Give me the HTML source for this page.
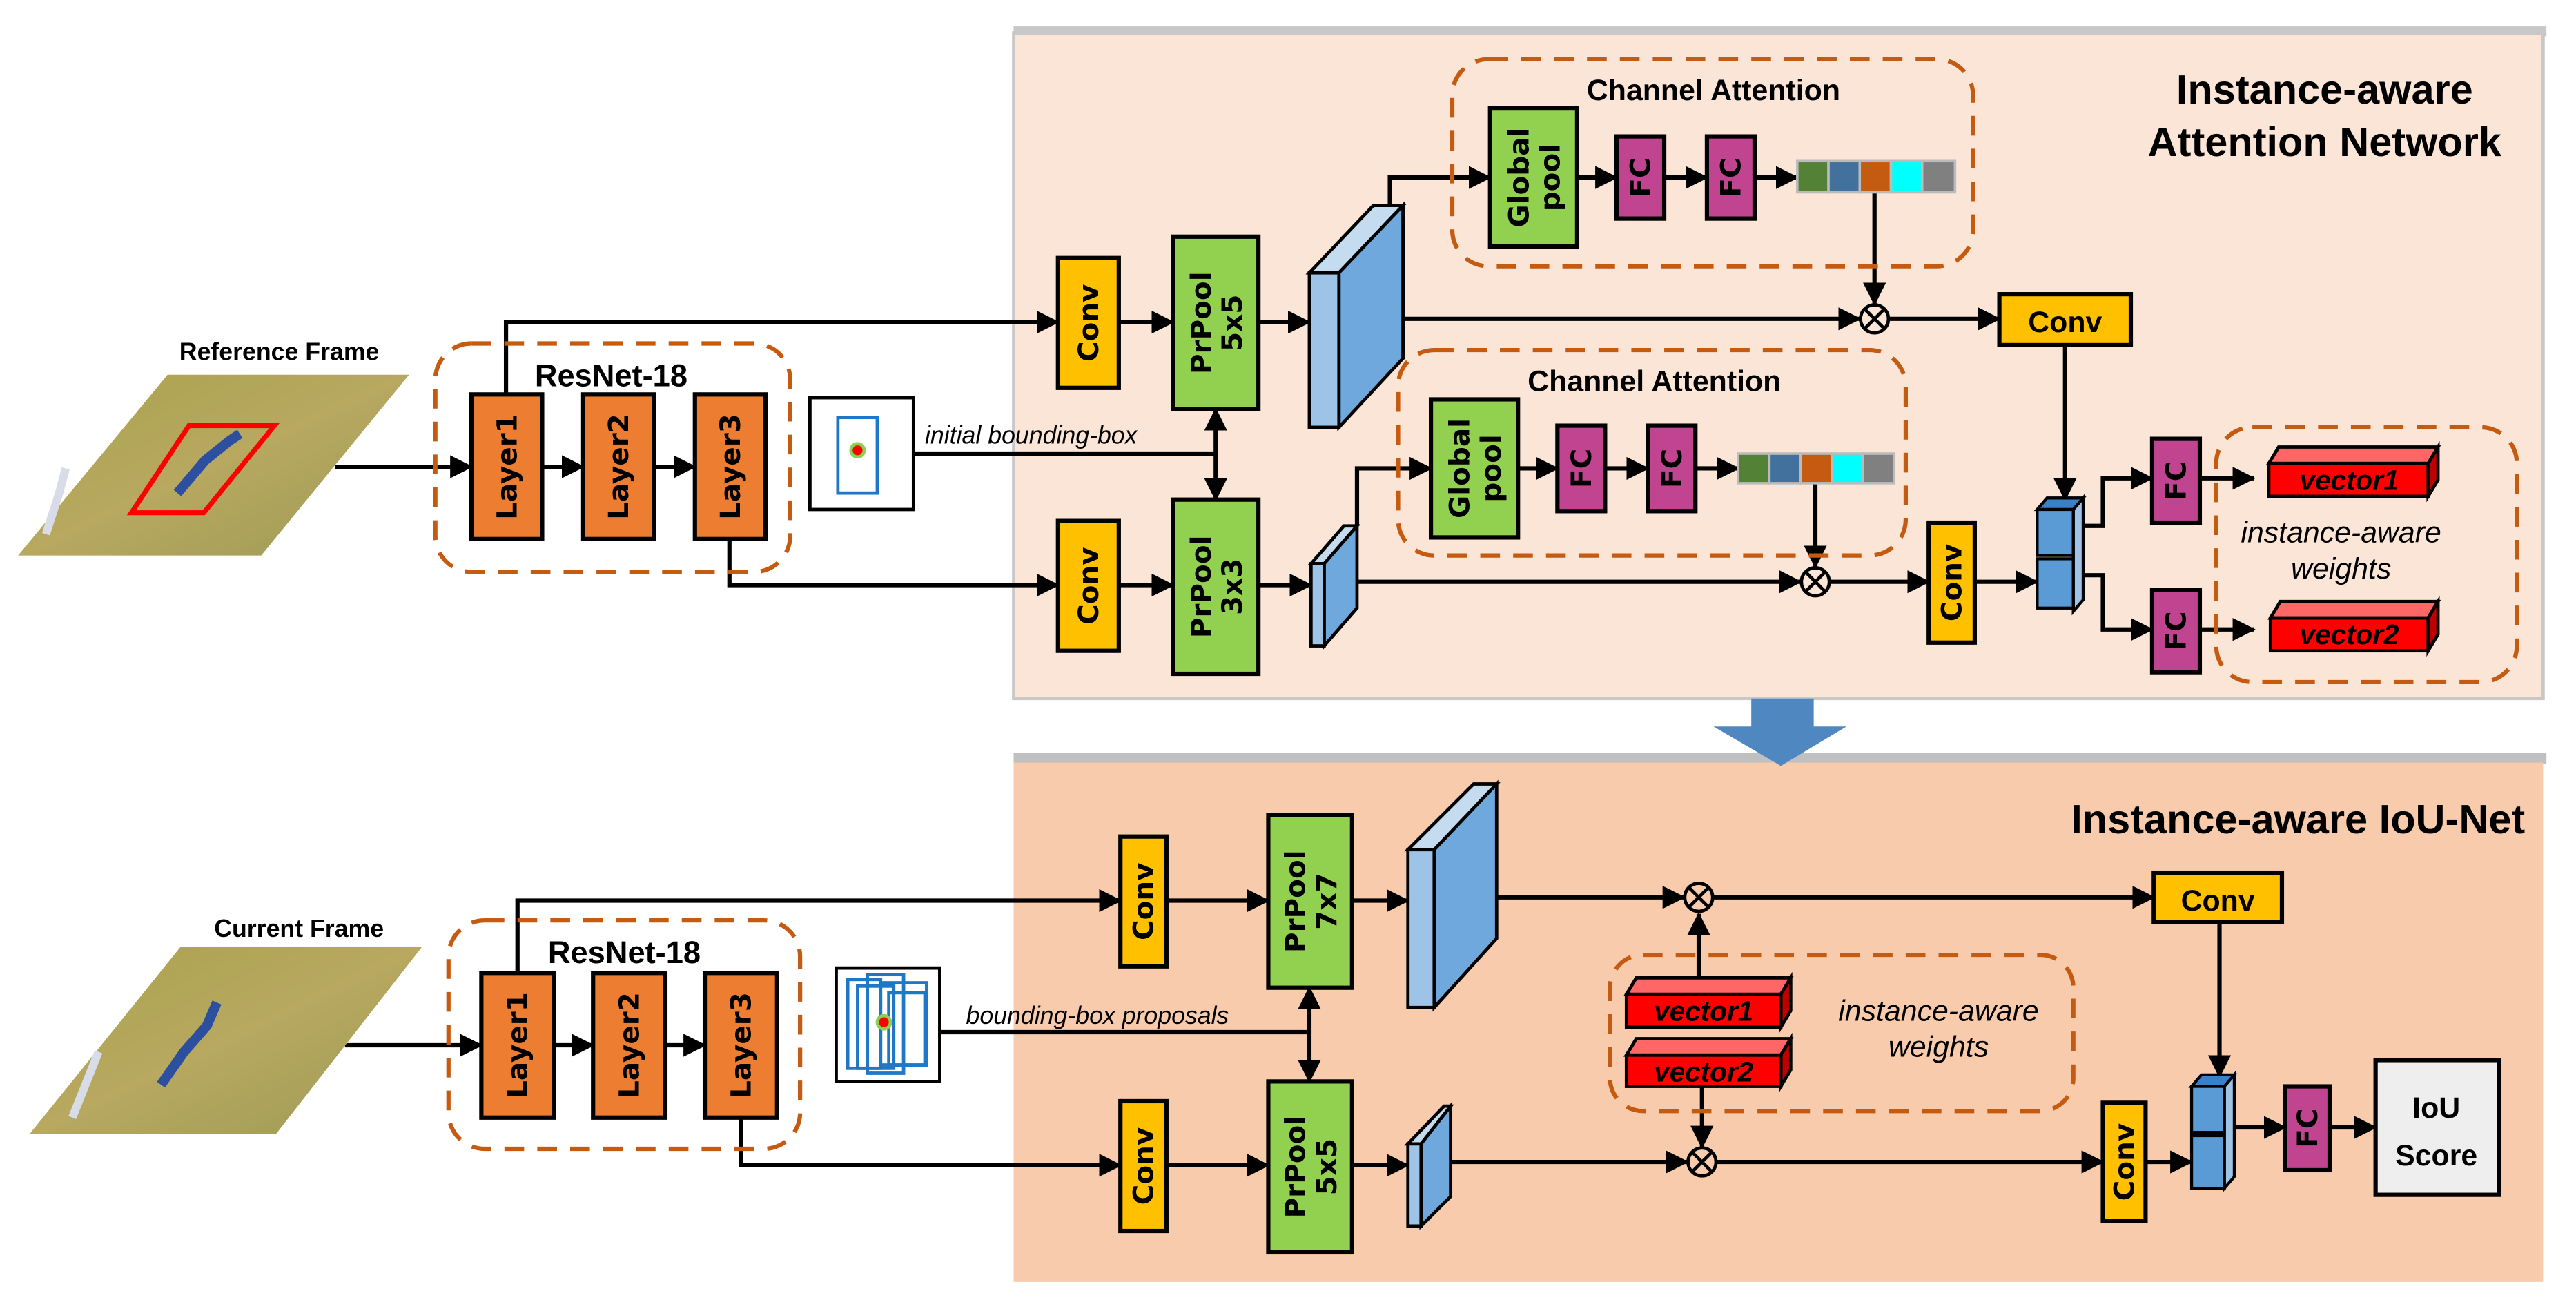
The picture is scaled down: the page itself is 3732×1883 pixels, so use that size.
<!DOCTYPE html>
<html><head><meta charset="utf-8"><style>
html,body{margin:0;padding:0;background:#fff}
svg{display:block}
.b{font-family:"DejaVu Sans",sans-serif;font-weight:bold}
.t{font-family:"Liberation Sans",sans-serif;font-weight:bold}
.i{font-family:"Liberation Sans",sans-serif;font-style:italic}
</style></head><body>
<svg width="3732" height="1883" viewBox="0 0 1568 791" preserveAspectRatio="none" xmlns="http://www.w3.org/2000/svg">
<defs>
<marker id="a" markerUnits="userSpaceOnUse" markerWidth="14" markerHeight="14" refX="13" refY="7" orient="auto"><path d="M0,0 L14,7 L0,14 z" fill="#000"/></marker>
<linearGradient id="g" x1="0" y1="0" x2="1" y2="1"><stop offset="0" stop-color="#a8a24c"/><stop offset="0.5" stop-color="#b8a860"/><stop offset="1" stop-color="#9c9a55"/></linearGradient>
</defs>
<!-- panels -->
<rect x="617" y="16" width="933" height="6" fill="#c8c8c8"/>
<rect x="617" y="20" width="931" height="405" fill="#fbe5d6" stroke="#c8c8c8" stroke-width="2"/>
<rect x="617" y="458" width="933" height="7" fill="#c0c0c0"/>
<rect x="617" y="464" width="931" height="316" fill="#f8cbad"/>
<!-- big arrow -->
<path d="M1066,425 L1104,425 L1104,442 L1124,442 L1084,466 L1043,442 L1066,442 z" fill="#4f88c0"/>

<g stroke="#000" stroke-width="2.6" fill="none">
<!-- TOP -->
<line x1="204" y1="284" x2="287" y2="284" marker-end="url(#a)"/>
<line x1="330" y1="284" x2="355" y2="284" marker-end="url(#a)"/>
<line x1="398" y1="284" x2="423" y2="284" marker-end="url(#a)"/>
<polyline points="308,240 308,196 644,196" marker-end="url(#a)"/>
<line x1="681" y1="196" x2="714" y2="196" marker-end="url(#a)"/>
<line x1="766" y1="196" x2="797" y2="196" marker-end="url(#a)"/>
<polyline points="444,328 444,356 644,356" marker-end="url(#a)"/>
<line x1="681" y1="356" x2="714" y2="356" marker-end="url(#a)"/>
<line x1="766" y1="356" x2="798" y2="356" marker-end="url(#a)"/>
<line x1="556" y1="276" x2="740" y2="276"/>
<line x1="740" y1="276" x2="740" y2="249" marker-end="url(#a)"/>
<line x1="740" y1="276" x2="740" y2="304" marker-end="url(#a)"/>
<line x1="833" y1="194" x2="1132" y2="194" marker-end="url(#a)"/>
<line x1="1150" y1="194" x2="1217" y2="194" marker-end="url(#a)"/>
<polyline points="846,125 846,108 907,108" marker-end="url(#a)"/>
<line x1="960" y1="108" x2="984" y2="108" marker-end="url(#a)"/>
<line x1="1013" y1="108" x2="1039" y2="108" marker-end="url(#a)"/>
<line x1="1068" y1="108" x2="1094" y2="108" marker-end="url(#a)"/>
<line x1="1141" y1="117" x2="1141" y2="185" marker-end="url(#a)"/>
<line x1="826" y1="354" x2="1096" y2="354" marker-end="url(#a)"/>
<line x1="1114" y1="354" x2="1174" y2="354" marker-end="url(#a)"/>
<polyline points="826,320 826,285 871,285" marker-end="url(#a)"/>
<line x1="924" y1="285" x2="948" y2="285" marker-end="url(#a)"/>
<line x1="977" y1="285" x2="1003" y2="285" marker-end="url(#a)"/>
<line x1="1032" y1="285" x2="1058" y2="285" marker-end="url(#a)"/>
<line x1="1105" y1="294" x2="1105" y2="345" marker-end="url(#a)"/>
<line x1="1257" y1="210" x2="1257" y2="304" marker-end="url(#a)"/>
<line x1="1202" y1="354" x2="1240" y2="354" marker-end="url(#a)"/>
<polyline points="1268,320 1280,320 1280,291 1310,291" marker-end="url(#a)"/>
<polyline points="1268,350 1280,350 1280,383 1310,383" marker-end="url(#a)"/>
<line x1="1339" y1="291" x2="1372" y2="291" marker-end="url(#a)"/>
<line x1="1339" y1="383" x2="1372" y2="383" marker-end="url(#a)"/>
<!-- BOTTOM -->
<line x1="210" y1="636" x2="293" y2="636" marker-end="url(#a)"/>
<line x1="337" y1="636" x2="361" y2="636" marker-end="url(#a)"/>
<line x1="405" y1="636" x2="429" y2="636" marker-end="url(#a)"/>
<polyline points="315,592 315,548 682,548" marker-end="url(#a)"/>
<line x1="710" y1="548" x2="772" y2="548" marker-end="url(#a)"/>
<line x1="823" y1="548" x2="857" y2="548" marker-end="url(#a)"/>
<line x1="893" y1="546" x2="1025" y2="546" marker-end="url(#a)"/>
<line x1="1043" y1="546" x2="1311" y2="546" marker-end="url(#a)"/>
<polyline points="451,680 451,709 682,709" marker-end="url(#a)"/>
<line x1="710" y1="709" x2="772" y2="709" marker-end="url(#a)"/>
<line x1="823" y1="709" x2="857" y2="709" marker-end="url(#a)"/>
<line x1="873" y1="707" x2="1027" y2="707" marker-end="url(#a)"/>
<line x1="1045" y1="707" x2="1280" y2="707" marker-end="url(#a)"/>
<line x1="572" y1="628" x2="797" y2="628"/>
<line x1="797" y1="628" x2="797" y2="601" marker-end="url(#a)"/>
<line x1="797" y1="628" x2="797" y2="658" marker-end="url(#a)"/>
<line x1="1034" y1="595" x2="1034" y2="556" marker-end="url(#a)"/>
<line x1="1036" y1="661" x2="1036" y2="698" marker-end="url(#a)"/>
<line x1="1351" y1="561" x2="1351" y2="655" marker-end="url(#a)"/>
<line x1="1306" y1="707" x2="1334" y2="707" marker-end="url(#a)"/>
<line x1="1360" y1="686" x2="1391" y2="686" marker-end="url(#a)"/>
<line x1="1418" y1="686" x2="1446" y2="686" marker-end="url(#a)"/>
</g>

<!-- dashed boxes -->
<g fill="none" stroke="#c55a11" stroke-width="2.6" stroke-dasharray="12,8">
<rect x="265" y="209" width="216" height="139" rx="22"/>
<rect x="884" y="36" width="317" height="126" rx="22"/>
<rect x="851" y="213" width="309" height="125" rx="22"/>
<rect x="1349" y="260" width="183" height="155" rx="22"/>
<rect x="273" y="560" width="214" height="139" rx="22"/>
<rect x="980" y="581" width="282" height="95" rx="20"/>
</g>

<!-- frames -->
<polygon points="11,338 102,228 249,228 159,338" fill="url(#g)"/>
<polygon points="80,312 115,259 167,259 124,312" fill="none" stroke="#f00" stroke-width="3"/>
<path d="M108,300 L125,280 L140,268 L146,264" stroke="#2c4fa0" stroke-width="6" fill="none"/>
<path d="M28,325 L36,300 L40,285" stroke="#d8dce8" stroke-width="5" fill="none"/>
<text x="170" y="219" class="t" font-size="15" text-anchor="middle">Reference Frame</text>
<polygon points="18,690 110,576 257,576 168,690" fill="url(#g)"/>
<path d="M98,660 L112,640 L126,624 L132,610" stroke="#2c4fa0" stroke-width="6" fill="none"/>
<path d="M44,680 L52,660 L60,640" stroke="#d8dce8" stroke-width="5" fill="none"/>
<text x="182" y="570" class="t" font-size="15" text-anchor="middle">Current Frame</text>

<!-- ResNet labels -->
<text x="372" y="235" class="t" font-size="19" text-anchor="middle">ResNet-18</text>
<text x="380" y="586" class="t" font-size="19" text-anchor="middle">ResNet-18</text>

<!-- layer boxes -->
<g fill="#ed7d31" stroke="#000" stroke-width="2.6">
<rect x="287" y="240" width="43" height="88"/><rect x="355" y="240" width="43" height="88"/><rect x="423" y="240" width="43" height="88"/>
<rect x="293" y="592" width="44" height="88"/><rect x="361" y="592" width="44" height="88"/><rect x="429" y="592" width="44" height="88"/>
</g>
<g class="b" font-size="17" text-anchor="middle" dominant-baseline="central">
<text transform="translate(308.5,284) rotate(-90)">Layer1</text>
<text transform="translate(376.5,284) rotate(-90)">Layer2</text>
<text transform="translate(444.5,284) rotate(-90)">Layer3</text>
<text transform="translate(315,636) rotate(-90)">Layer1</text>
<text transform="translate(383,636) rotate(-90)">Layer2</text>
<text transform="translate(451,636) rotate(-90)">Layer3</text>
</g>

<!-- bbox images -->
<rect x="493" y="242" width="63" height="68" fill="#fff" stroke="#000" stroke-width="2"/>
<rect x="510" y="254" width="24" height="46" fill="none" stroke="#1f77c8" stroke-width="2"/>
<circle cx="522" cy="274" r="4" fill="#f00" stroke="#8cd050" stroke-width="2"/>
<text x="563" y="270" class="i" font-size="15">initial bounding-box</text>
<rect x="509" y="589" width="63" height="69" fill="#fff" stroke="#000" stroke-width="2"/>
<g fill="none" stroke="#1f77c8" stroke-width="2">
<rect x="516" y="596" width="20" height="54"/><rect x="522" y="600" width="22" height="50"/><rect x="528" y="593" width="22" height="60"/><rect x="536" y="598" width="28" height="50"/><rect x="541" y="604" width="22" height="44"/>
</g>
<circle cx="538" cy="622" r="4" fill="#f00" stroke="#8cd050" stroke-width="2"/>
<text x="588" y="623" class="i" font-size="15">bounding-box proposals</text>

<!-- convs & prpool -->
<g stroke="#000" stroke-width="2.6">
<rect x="644" y="157" width="37" height="79" fill="#ffc000"/>
<rect x="644" y="317" width="37" height="79" fill="#ffc000"/>
<rect x="714" y="144" width="52" height="105" fill="#92d050"/>
<rect x="714" y="304" width="52" height="106" fill="#92d050"/>
<rect x="1217" y="179" width="80" height="31" fill="#ffc000"/>
<rect x="1174" y="318" width="28" height="73" fill="#ffc000"/>
<rect x="682" y="509" width="28" height="79" fill="#ffc000"/>
<rect x="682" y="670" width="28" height="79" fill="#ffc000"/>
<rect x="772" y="496" width="51" height="105" fill="#92d050"/>
<rect x="772" y="658" width="51" height="104" fill="#92d050"/>
<rect x="1311" y="531" width="78" height="30" fill="#ffc000"/>
<rect x="1280" y="671" width="26" height="72" fill="#ffc000"/>
<rect x="907" y="66" width="53" height="84" fill="#92d050"/>
<rect x="871" y="243" width="53" height="84" fill="#92d050"/>
<rect x="984" y="83" width="29" height="50" fill="#c0448f"/>
<rect x="1039" y="83" width="29" height="50" fill="#c0448f"/>
<rect x="948" y="259" width="29" height="52" fill="#c0448f"/>
<rect x="1003" y="259" width="29" height="52" fill="#c0448f"/>
<rect x="1310" y="267" width="29" height="51" fill="#c0448f"/>
<rect x="1310" y="359" width="29" height="50" fill="#c0448f"/>
<rect x="1391" y="661" width="27" height="51" fill="#c0448f"/>
<rect x="1446" y="645" width="75" height="82" fill="#eeeeee"/>
</g>
<g class="b" font-size="17" text-anchor="middle" dominant-baseline="central">
<text transform="translate(662.5,196.5) rotate(-90)">Conv</text>
<text transform="translate(662.5,356.5) rotate(-90)">Conv</text>
<text transform="translate(696,548.5) rotate(-90)">Conv</text>
<text transform="translate(696,709.5) rotate(-90)">Conv</text>
<text transform="translate(1188,354.5) rotate(-90)">Conv</text>
<text transform="translate(1293,707) rotate(-90)">Conv</text>
<text transform="translate(740,196.5) rotate(-90)"><tspan x="0" dy="-9">PrPool</tspan><tspan x="0" dy="19">5x5</tspan></text>
<text transform="translate(740,357) rotate(-90)"><tspan x="0" dy="-9">PrPool</tspan><tspan x="0" dy="19">3x3</tspan></text>
<text transform="translate(797.5,548.5) rotate(-90)"><tspan x="0" dy="-9">PrPool</tspan><tspan x="0" dy="19">7x7</tspan></text>
<text transform="translate(797.5,710) rotate(-90)"><tspan x="0" dy="-9">PrPool</tspan><tspan x="0" dy="19">5x5</tspan></text>
<text transform="translate(933.5,108) rotate(-90)"><tspan x="0" dy="-9">Global</tspan><tspan x="0" dy="19">pool</tspan></text>
<text transform="translate(897.5,285) rotate(-90)"><tspan x="0" dy="-9">Global</tspan><tspan x="0" dy="19">pool</tspan></text>
<text transform="translate(998.5,108) rotate(-90)">FC</text>
<text transform="translate(1053.5,108) rotate(-90)">FC</text>
<text transform="translate(962.5,285) rotate(-90)">FC</text>
<text transform="translate(1017.5,285) rotate(-90)">FC</text>
<text transform="translate(1324.5,292.5) rotate(-90)">FC</text>
<text transform="translate(1324.5,384) rotate(-90)">FC</text>
<text transform="translate(1404.5,686.5) rotate(-90)">FC</text>
</g>
<text x="1257" y="202" class="t" font-size="18" text-anchor="middle">Conv</text>
<text x="1350" y="554" class="t" font-size="18" text-anchor="middle">Conv</text>
<text x="1483" y="680" class="t" font-size="18" text-anchor="middle">IoU</text>
<text x="1483" y="709" class="t" font-size="18" text-anchor="middle">Score</text>

<!-- channel attention -->
<text x="1043" y="61" class="t" font-size="18" text-anchor="middle">Channel Attention</text>
<text x="1007" y="238" class="t" font-size="18" text-anchor="middle">Channel Attention</text>
<g stroke="#bbb" stroke-width="1.5">
<rect x="1094" y="98" width="19" height="19" fill="#538135"/><rect x="1113" y="98" width="19" height="19" fill="#41719c"/><rect x="1132" y="98" width="19" height="19" fill="#c55a11"/><rect x="1151" y="98" width="19" height="19" fill="#00ffff"/><rect x="1170" y="98" width="20" height="19" fill="#808080"/>
<rect x="1058" y="276" width="19" height="18" fill="#538135"/><rect x="1077" y="276" width="19" height="18" fill="#41719c"/><rect x="1096" y="276" width="19" height="18" fill="#c55a11"/><rect x="1115" y="276" width="19" height="18" fill="#00ffff"/><rect x="1134" y="276" width="19" height="18" fill="#808080"/>
</g>

<!-- titles -->
<text x="1415" y="63" class="t" font-size="25" text-anchor="middle">Instance-aware</text>
<text x="1415" y="95" class="t" font-size="25" text-anchor="middle">Attention Network</text>
<text x="1537" y="507" class="t" font-size="25" text-anchor="end">Instance-aware IoU-Net</text>

<!-- slabs -->
<g stroke="#000" stroke-width="2">
<polygon points="797,166 836,125 854,125 815,166" fill="#c5dcf0"/>
<polygon points="815,166 854,125 854,218 815,260" fill="#6fa8dc"/>
<rect x="797" y="166" width="18" height="94" fill="#9dc3e6"/>
<polygon points="798,343 818,320 826,320 806,343" fill="#c5dcf0"/>
<polygon points="806,343 826,320 826,370 806,393" fill="#6fa8dc"/>
<rect x="798" y="343" width="8" height="50" fill="#9dc3e6"/>
<polygon points="857,517 897,477 911,477 873,517" fill="#c5dcf0"/>
<polygon points="873,517 911,477 911,571 873,613" fill="#6fa8dc"/>
<rect x="857" y="517" width="16" height="96" fill="#9dc3e6"/>
<polygon points="857,696 879,673 883,673 865,696" fill="#c5dcf0"/>
<polygon points="865,696 883,673 883,728 865,746" fill="#6fa8dc"/>
<rect x="857" y="696" width="8" height="50" fill="#9dc3e6"/>
</g>
<!-- stacks -->
<g stroke="#000" stroke-width="1.8">
<polygon points="1240,310 1246,303 1268,303 1262,310" fill="#3a80c8"/>
<polygon points="1262,310 1268,303 1268,365 1262,372" fill="#9dc3e6"/>
<rect x="1240" y="310" width="22" height="28" fill="#5b9bd5"/>
<rect x="1240" y="340" width="22" height="30" fill="#5b9bd5"/>
<polygon points="1334,661 1340,654 1360,654 1354,661" fill="#3a80c8"/>
<polygon points="1354,661 1360,654 1360,716 1354,723" fill="#9dc3e6"/>
<rect x="1334" y="661" width="20" height="28" fill="#5b9bd5"/>
<rect x="1334" y="691" width="20" height="32" fill="#5b9bd5"/>
</g>
<!-- otimes -->
<g stroke="#000" stroke-width="2" fill="#fbe5d6">
<circle cx="1141" cy="194" r="8.5"/><path d="M1135,188 L1147,200 M1147,188 L1135,200"/>
<circle cx="1105" cy="354" r="8.5"/><path d="M1099,348 L1111,360 M1111,348 L1099,360"/>
</g>
<g stroke="#000" stroke-width="2" fill="#f8cbad">
<circle cx="1034" cy="546" r="8.5"/><path d="M1028,540 L1040,552 M1040,540 L1028,552"/>
<circle cx="1036" cy="707" r="8.5"/><path d="M1030,701 L1042,713 M1042,701 L1030,713"/>
</g>
<!-- vectors -->
<g stroke="#000" stroke-width="2">
<polygon points="1381,282 1387,272 1484,272 1478,282" fill="#ff6666"/><polygon points="1478,282 1484,272 1484,292 1478,302" fill="#c00000"/><rect x="1381" y="282" width="97" height="20" fill="#ff0000"/>
<polygon points="1382,376 1388,366 1484,366 1478,376" fill="#ff6666"/><polygon points="1478,376 1484,366 1484,386 1478,396" fill="#c00000"/><rect x="1382" y="376" width="96" height="20" fill="#ff0000"/>
<polygon points="990,605 996,595 1090,595 1084,605" fill="#ff6666"/><polygon points="1084,605 1090,595 1090,615 1084,625" fill="#c00000"/><rect x="990" y="605" width="94" height="20" fill="#ff0000"/>
<polygon points="990,642 996,632 1090,632 1084,642" fill="#ff6666"/><polygon points="1084,642 1090,632 1090,651 1084,661" fill="#c00000"/><rect x="990" y="642" width="94" height="19" fill="#ff0000"/>
</g>
<g class="t" font-style="italic" font-size="17" text-anchor="middle">
<text x="1430" y="298">vector1</text><text x="1430" y="392">vector2</text>
<text x="1037" y="621">vector1</text><text x="1037" y="658">vector2</text>
</g>
<g class="i" font-size="18" text-anchor="middle">
<text x="1425" y="330">instance-aware</text><text x="1425" y="352">weights</text>
<text x="1180" y="621">instance-aware</text><text x="1180" y="643">weights</text>
</g>
</svg>
</body></html>
